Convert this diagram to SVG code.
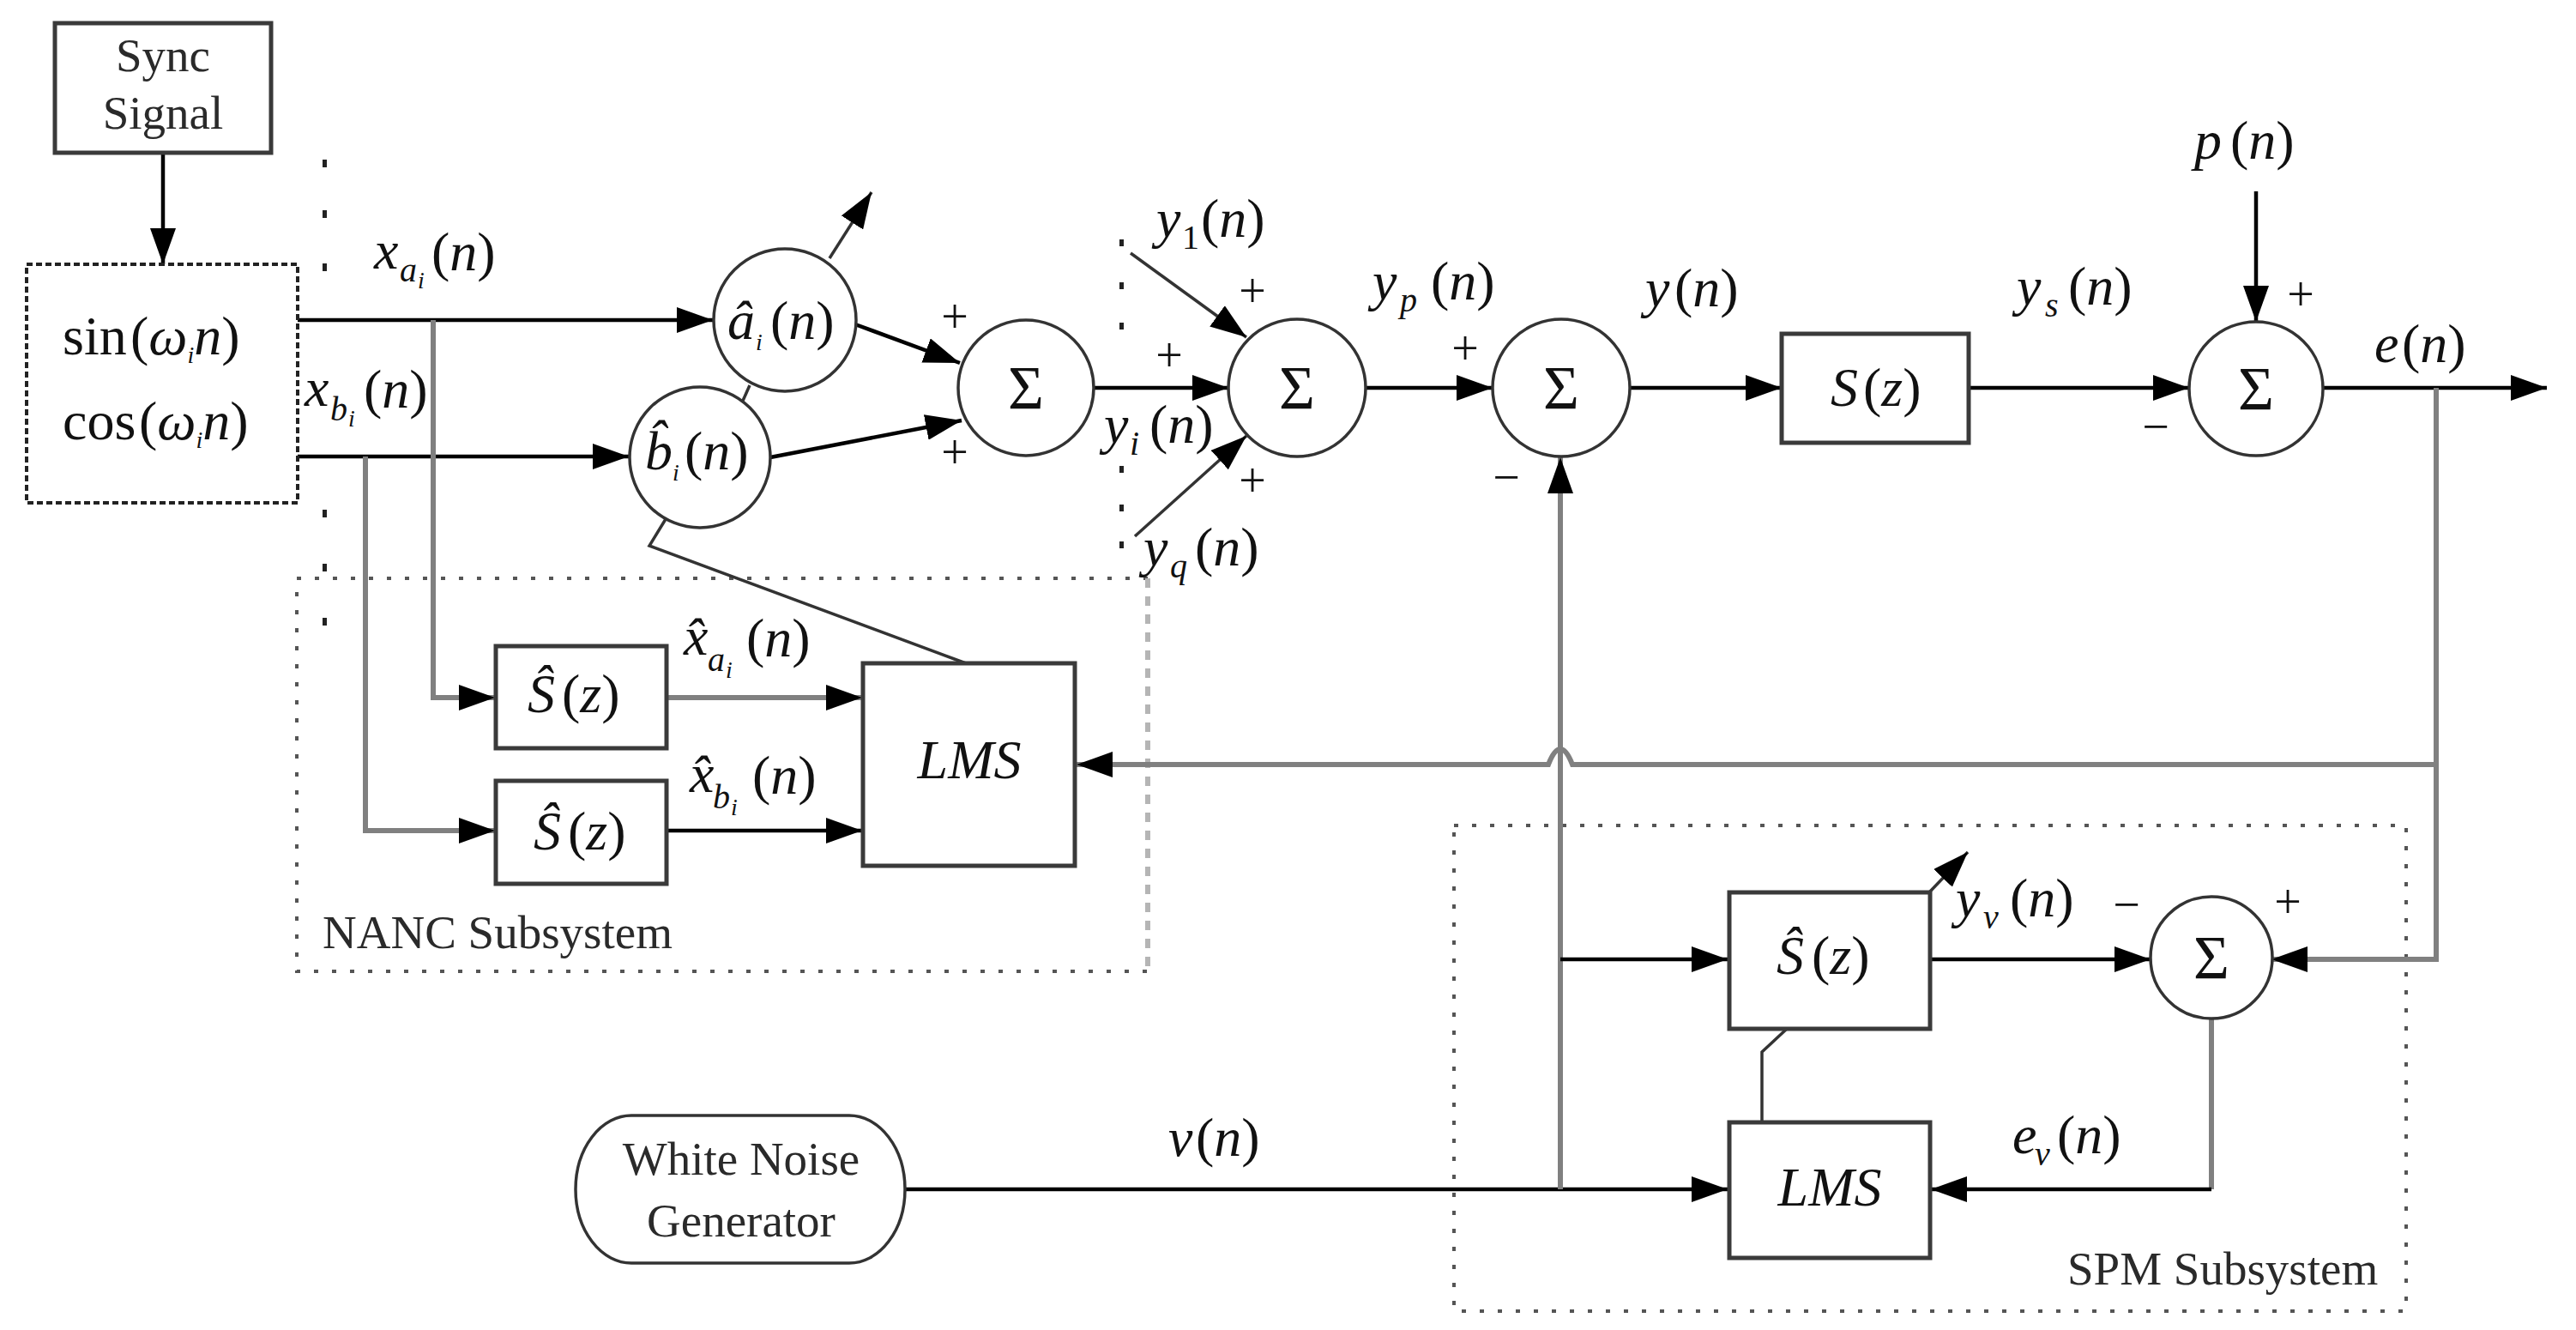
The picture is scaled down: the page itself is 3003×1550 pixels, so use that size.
<svg xmlns="http://www.w3.org/2000/svg" width="3003" height="1550" viewBox="0 0 3003 1550">
<defs>
<marker id="ah" markerWidth="42" markerHeight="30" refX="42" refY="15" orient="auto" markerUnits="userSpaceOnUse"><path d="M0,0 L42,15 L0,30 Z" fill="#000"/></marker>
<style>
.m { font-family: "Liberation Serif", "DejaVu Serif", serif; font-size: 64px; fill: #111; }
.it { font-style: italic; }
.s1 { font-size: 40px; }
.s2 { font-size: 28px; }
.t { font-family: "Liberation Serif", serif; font-size: 55px; fill: #2a2a2a; }
.tc { text-anchor: middle; }
.sig { font-family: "Liberation Serif", serif; font-size: 72px; fill: #111; text-anchor: middle; }
.pm { font-family: "Liberation Serif", serif; font-size: 56px; fill: #111; text-anchor: middle; }
.box { fill: #fff; stroke: #3a3a3a; stroke-width: 5; }
.circ { fill: #fff; stroke: #333; stroke-width: 3.5; }
.w { fill: none; stroke: #000; stroke-width: 4.5; }
.g { fill: none; stroke: #808080; stroke-width: 6; }
.thin { fill: none; stroke: #333; stroke-width: 3.5; }
.arr { marker-end: url(#ah); }
.dot { fill: #222; }
.dotted { fill: none; stroke: #555; stroke-width: 4; stroke-dasharray: 5 16; }
</style>
</defs>
<rect width="3003" height="1550" fill="#fff"/>

<!-- subsystem frames -->
<g id="nanc-frame">
<path class="dotted" d="M1338,674 H346 V1132 H1338"/>
<path d="M1338,674 V1132" fill="none" stroke="#b5b5b5" stroke-width="6" stroke-dasharray="11 10"/>
<text class="t" x="376" y="1105">NANC Subsystem</text>
</g>
<g id="spm-frame">
<rect class="dotted" x="1695" y="962" width="1110" height="566"/>
<text class="t" x="2410" y="1497">SPM Subsystem</text>
</g>

<!-- connectors -->
<g id="connectors">
<path class="w arr" d="M190,178 V308"/>
<path class="w arr" d="M347,373 H831"/>
<path class="w arr" d="M347,532 H733"/>
<path class="g arr" d="M505,373 V813 H577"/>
<path class="g arr" d="M426,532 V968 H577"/>
<path class="g arr" d="M777,813 H1005"/>
<path class="w arr" d="M777,968 H1005"/>
<path class="thin" d="M1126,773 L757,636 L776,605"/>
<path class="thin" d="M866,467 L874,449"/>
<path class="thin arr" d="M967,301 L1016,224"/>
<path class="w arr" d="M997,378 L1119,423"/>
<path class="w arr" d="M898,533 L1121,490"/>
<path class="w arr" d="M1275,452 H1432"/>
<path class="thin arr" d="M1318,295 L1453,393"/>
<path class="thin arr" d="M1323,625 L1453,508"/>
<path class="w arr" d="M1592,452 H1740"/>
<path class="w arr" d="M1900,452 H2077"/>
<path class="w arr" d="M2295,452 H2552"/>
<path class="w arr" d="M2630,223 V375"/>
<path class="w arr" d="M2708,452 H2969"/>
<path class="g arr" d="M2840,452 V1118 H2648"/>
<path class="g arr" d="M2840,891 H1833 Q1819,855 1805,891 H1255"/>
<path class="g" d="M2578,1188 V1386"/>
<path class="w arr" d="M2578,1386 H2251"/>
<path class="w arr" d="M2251,1118 H2507"/>
<path class="thin arr" d="M2249,1040 L2294,993"/>
<path class="thin" d="M2083,1199 L2054,1226 V1307"/>
<path class="w arr" d="M1055,1386 H2014"/>
<path class="g arr" d="M1819,1386 V533"/>
<path class="w arr" d="M1819,1118 H2014"/>
</g>

<!-- ellipsis dots -->
<g id="dots">
<rect class="dot" x="376" y="186" width="5" height="9"/>
<rect class="dot" x="376" y="245" width="5" height="9"/>
<rect class="dot" x="376" y="307" width="5" height="9"/>
<rect class="dot" x="376" y="594" width="5" height="9"/>
<rect class="dot" x="376" y="657" width="5" height="9"/>
<rect class="dot" x="376" y="720" width="5" height="9"/>
<rect class="dot" x="1305" y="279" width="5" height="8"/>
<rect class="dot" x="1305" y="329" width="5" height="8"/>
<rect class="dot" x="1305" y="376" width="5" height="8"/>
<rect class="dot" x="1305" y="543" width="5" height="8"/>
<rect class="dot" x="1305" y="588" width="5" height="8"/>
<rect class="dot" x="1305" y="631" width="5" height="8"/>
</g>

<!-- nodes -->
<g id="sync">
<rect class="box" x="64" y="27" width="252" height="151"/>
<text class="t tc" x="190" y="83">Sync</text>
<text class="t tc" x="190" y="150">Signal</text>
</g>

<g id="oscillator">
<rect x="31" y="308" width="316" height="278" fill="#fff" stroke="#222" stroke-width="4" stroke-dasharray="7 4"/>
<text class="m"><tspan x="73" y="413">sin</tspan><tspan x="152">(</tspan><tspan class="it">ω</tspan><tspan class="s2 it" dy="10">i</tspan><tspan class="it" dy="-10">n</tspan><tspan>)</tspan></text>
<text class="m"><tspan x="73" y="512">cos</tspan><tspan x="162">(</tspan><tspan class="it">ω</tspan><tspan class="s2 it" dy="10">i</tspan><tspan class="it" dy="-10">n</tspan><tspan>)</tspan></text>
</g>

<g id="a-hat">
<circle class="circ" cx="915" cy="373" r="83"/>
<text class="m"><tspan class="it" x="848" y="395">â</tspan><tspan class="s2 it" x="881" y="408">i</tspan><tspan x="898" y="395">(</tspan><tspan class="it">n</tspan><tspan>)</tspan></text>
</g>

<g id="b-hat">
<circle class="circ" cx="816" cy="533" r="82"/>
<text class="m"><tspan class="it" x="752" y="547">b̂</tspan><tspan class="s2 it" x="784" y="560">i</tspan><tspan x="798" y="547">(</tspan><tspan class="it">n</tspan><tspan>)</tspan></text>
</g>

<g id="sum1">
<circle class="circ" cx="1196" cy="452" r="79"/>
<text class="sig" x="1196" y="476">Σ</text>
<text class="pm" x="1113" y="388">+</text>
<text class="pm" x="1113" y="546">+</text>
</g>

<g id="sum2">
<circle class="circ" cx="1512" cy="452" r="80"/>
<text class="sig" x="1512" y="476">Σ</text>
<text class="pm" x="1460" y="358">+</text>
<text class="pm" x="1363" y="433">+</text>
<text class="pm" x="1460" y="579">+</text>
</g>

<g id="sum3">
<circle class="circ" cx="1820" cy="452" r="80"/>
<text class="sig" x="1820" y="476">Σ</text>
<text class="pm" x="1708" y="425">+</text>
<text class="pm" x="1756" y="575">−</text>
</g>

<g id="secondary-path">
<rect class="box" x="2077" y="389" width="218" height="127"/>
<text class="m"><tspan class="it" x="2134" y="473">S</tspan><tspan x="2172">(</tspan><tspan class="it">z</tspan><tspan>)</tspan></text>
</g>

<g id="sum4">
<circle class="circ" cx="2630" cy="453" r="78"/>
<text class="sig" x="2630" y="477">Σ</text>
<text class="pm" x="2682" y="362">+</text>
<text class="pm" x="2513" y="516">−</text>
</g>

<g id="shat1">
<rect class="box" x="578" y="753" width="199" height="119"/>
<text class="m"><tspan class="it" x="615" y="830">Ŝ</tspan><tspan x="655">(</tspan><tspan class="it">z</tspan><tspan>)</tspan></text>
</g>

<g id="shat2">
<rect class="box" x="578" y="910" width="199" height="120"/>
<text class="m"><tspan class="it" x="622" y="990">Ŝ</tspan><tspan x="662">(</tspan><tspan class="it">z</tspan><tspan>)</tspan></text>
</g>

<g id="lms-nanc">
<rect class="box" x="1006" y="773" width="247" height="236"/>
<text class="m it tc" x="1130" y="907">LMS</text>
</g>

<g id="shat-spm">
<rect class="box" x="2016" y="1040" width="234" height="159"/>
<text class="m"><tspan class="it" x="2071" y="1135">Ŝ</tspan><tspan x="2112">(</tspan><tspan class="it">z</tspan><tspan>)</tspan></text>
</g>

<g id="lms-spm">
<rect class="box" x="2016" y="1308" width="234" height="158"/>
<text class="m it tc" x="2133" y="1405">LMS</text>
</g>

<g id="sum5">
<circle class="circ" cx="2578" cy="1116" r="71"/>
<text class="sig" x="2578" y="1140">Σ</text>
<text class="pm" x="2479" y="1073">−</text>
<text class="pm" x="2667" y="1070">+</text>
</g>

<g id="white-noise">
<path class="circ" d="M736,1300 H990 A65,86 0 0 1 990,1472 H736 A65,86 0 0 1 736,1300 Z"/>
<text class="t tc" x="864" y="1369">White Noise</text>
<text class="t tc" x="864" y="1441">Generator</text>
</g>

<!-- signal labels -->
<g id="labels">
<text class="m"><tspan class="it" x="436" y="313">x</tspan><tspan class="s1 it" x="466" y="328">a</tspan><tspan class="s2 it" x="487" y="336">i</tspan><tspan x="503" y="315">(</tspan><tspan class="it">n</tspan><tspan>)</tspan></text>
<text class="m"><tspan class="it" x="355" y="473">x</tspan><tspan class="s1 it" x="385" y="490">b</tspan><tspan class="s2 it" x="406" y="497">i</tspan><tspan x="424" y="475">(</tspan><tspan class="it">n</tspan><tspan>)</tspan></text>
<text class="m"><tspan class="it" x="797" y="763">x̂</tspan><tspan class="s1 it" x="825" y="782">a</tspan><tspan class="s2 it" x="846" y="790">i</tspan><tspan x="870" y="765">(</tspan><tspan class="it">n</tspan><tspan>)</tspan></text>
<text class="m"><tspan class="it" x="804" y="923">x̂</tspan><tspan class="s1 it" x="831" y="942">b</tspan><tspan class="s2 it" x="852" y="950">i</tspan><tspan x="877" y="925">(</tspan><tspan class="it">n</tspan><tspan>)</tspan></text>
<text class="m"><tspan class="it" x="1348" y="276">y</tspan><tspan class="s1" x="1378" y="290">1</tspan><tspan x="1400" y="276">(</tspan><tspan class="it">n</tspan><tspan>)</tspan></text>
<text class="m"><tspan class="it" x="1287" y="516">y</tspan><tspan class="s1 it" x="1317" y="530">i</tspan><tspan x="1340" y="516">(</tspan><tspan class="it">n</tspan><tspan>)</tspan></text>
<text class="m"><tspan class="it" x="1333" y="659">y</tspan><tspan class="s1 it" x="1364" y="673">q</tspan><tspan x="1393" y="659">(</tspan><tspan class="it">n</tspan><tspan>)</tspan></text>
<text class="m"><tspan class="it" x="1600" y="349">y</tspan><tspan class="s1 it" x="1632" y="363">p</tspan><tspan x="1668" y="349">(</tspan><tspan class="it">n</tspan><tspan>)</tspan></text>
<text class="m"><tspan class="it" x="1918" y="357">y</tspan><tspan x="1952">(</tspan><tspan class="it">n</tspan><tspan>)</tspan></text>
<text class="m"><tspan class="it" x="2351" y="355">y</tspan><tspan class="s1 it" x="2384" y="369">s</tspan><tspan x="2411" y="355">(</tspan><tspan class="it">n</tspan><tspan>)</tspan></text>
<text class="m"><tspan class="it" x="2558" y="185">p</tspan><tspan x="2600">(</tspan><tspan class="it">n</tspan><tspan>)</tspan></text>
<text class="m"><tspan class="it" x="2768" y="422">e</tspan><tspan x="2800">(</tspan><tspan class="it">n</tspan><tspan>)</tspan></text>
<text class="m"><tspan class="it" x="1362" y="1347">v</tspan><tspan x="1394">(</tspan><tspan class="it">n</tspan><tspan>)</tspan></text>
<text class="m"><tspan class="it" x="2280" y="1068">y</tspan><tspan class="s1 it" x="2312" y="1082">v</tspan><tspan x="2343" y="1068">(</tspan><tspan class="it">n</tspan><tspan>)</tspan></text>
<text class="m"><tspan class="it" x="2346" y="1344">e</tspan><tspan class="s1 it" x="2372" y="1358">v</tspan><tspan x="2398" y="1344">(</tspan><tspan class="it">n</tspan><tspan>)</tspan></text>
</g>
</svg>
